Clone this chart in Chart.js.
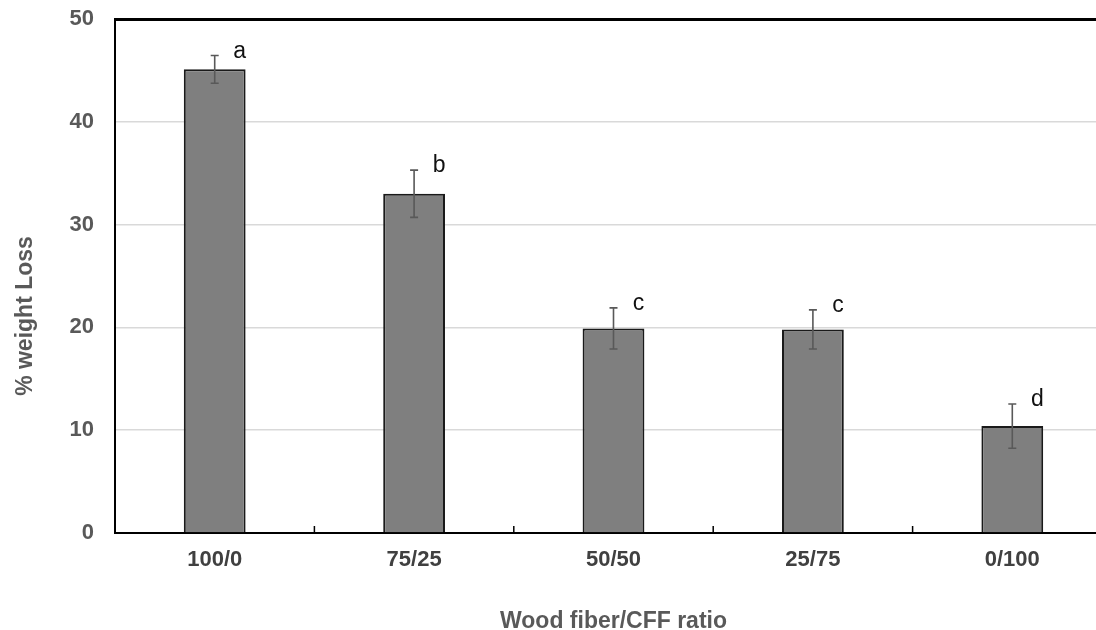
<!DOCTYPE html>
<html lang="en">
<head>
  <meta charset="UTF-8">
  <title>% weight Loss by Wood fiber/CFF ratio</title>
  <script src="https://cdn.jsdelivr.net/npm/chart.js"></script>
  <style>
    body {
      margin: 0;
      background: #fff;
      overflow: hidden;
      font-family: 'Liberation Sans', Arial, sans-serif;
    }
    #wrap {
      width: 1112px;
      height: 630px;
    }
  </style>
</head>
<body>
  <div id="wrap">
    <canvas id="chart" width="1112" height="630"></canvas>
  </div>

  <script>
    const ratios = ['100/0', '75/25', '50/50', '25/75', '0/100'];
    const weightLoss = [45.1, 33.0, 19.9, 19.8, 10.4];
    const stdDev = [1.35, 2.3, 2.0, 1.9, 2.15];
    const groups = ['a', 'b', 'c', 'c', 'd'];
    const yTicks = [0, 10, 20, 30, 40, 50];

    const FONT = "'Liberation Sans', Arial, sans-serif";

    // error bars + significance letters
    const errorBars = {
      id: 'errorBars',
      afterDatasetsDraw(chart) {
        const { ctx, scales: { x, y } } = chart;
        ctx.save();
        ctx.strokeStyle = '#595959';
        ctx.lineWidth = 1.6;
        weightLoss.forEach((v, i) => {
          const cx = x.getPixelForValue(i);
          const top = y.getPixelForValue(v + stdDev[i]);
          const bot = y.getPixelForValue(v - stdDev[i]);
          ctx.beginPath();
          ctx.moveTo(cx, top); ctx.lineTo(cx, bot);
          ctx.moveTo(cx - 4, top); ctx.lineTo(cx + 4, top);
          ctx.moveTo(cx - 4, bot); ctx.lineTo(cx + 4, bot);
          ctx.stroke();

          ctx.fillStyle = '#111';
          ctx.font = '23px ' + FONT;
          ctx.textAlign = 'center';
          ctx.textBaseline = 'middle';
          ctx.fillText(groups[i], cx + 25, top - 4);
        });
        ctx.restore();
      }
    };

    // small inward ticks between categories + y axis title
    const axisExtras = {
      id: 'axisExtras',
      afterDraw(chart) {
        const { ctx, scales: { x, y } } = chart;
        ctx.save();
        ctx.strokeStyle = '#000';
        ctx.lineWidth = 1.5;
        const half = (x.getPixelForValue(1) - x.getPixelForValue(0)) / 2;
        for (let i = 0; i < ratios.length; i++) {
          const px = x.getPixelForValue(i) + half;
          ctx.beginPath();
          ctx.moveTo(px, y.bottom);
          ctx.lineTo(px, y.bottom - 7);
          ctx.stroke();
        }

        ctx.translate(26, 316);
        ctx.rotate(-Math.PI / 2);
        ctx.fillStyle = '#595959';
        ctx.font = 'bold 23px ' + FONT;
        ctx.textAlign = 'center';
        ctx.textBaseline = 'middle';
        ctx.fillText('% weight Loss', 0, 0);
        ctx.restore();
      }
    };

    new Chart(document.getElementById('chart'), {
      type: 'bar',
      data: {
        labels: ratios,
        datasets: [{
          data: weightLoss,
          backgroundColor: '#7f7f7f',
          borderColor: '#1a1a1a',
          borderWidth: 2,
          barPercentage: 0.31,
          categoryPercentage: 1
        }]
      },
      options: {
        responsive: false,
        animation: false,
        layout: { padding: { top: 19, left: 0, right: 0, bottom: 0 } },
        plugins: {
          legend: { display: false },
          tooltip: { enabled: false }
        },
        scales: {
          x: {
            afterFit(scale) {
              scale.height = 97;
              scale.paddingLeft = 0;
              scale.paddingRight = 0;
            },
            grid: { display: false },
            border: { color: '#000', width: 2 },
            ticks: {
              color: '#404040',
              padding: 6,
              font: { family: FONT, size: 22, weight: 'bold' }
            },
            title: {
              display: true,
              text: 'Wood fiber/CFF ratio',
              color: '#595959',
              padding: 0,
              font: { family: FONT, size: 23, weight: 'bold', lineHeight: 0.7 }
            }
          },
          y: {
            min: 0,
            max: 50,
            afterFit(scale) {
              scale.width = 115;
              scale.paddingTop = 0;
              scale.paddingBottom = 0;
            },
            afterBuildTicks(scale) { scale.ticks = yTicks.map(v => ({ value: v })); },
            grid: {
              drawTicks: false,
              color: c => c.tick && c.tick.value === 50 ? '#000' : '#d9d9d9',
              lineWidth: c => c.tick && c.tick.value === 50 ? 3 : 1.5
            },
            border: { color: '#000', width: 2 },
            ticks: {
              color: '#595959',
              padding: 21,
              font: { family: FONT, size: 22, weight: 'bold' }
            }
          }
        }
      },
      plugins: [errorBars, axisExtras]
    });
  </script>
</body>
</html>
